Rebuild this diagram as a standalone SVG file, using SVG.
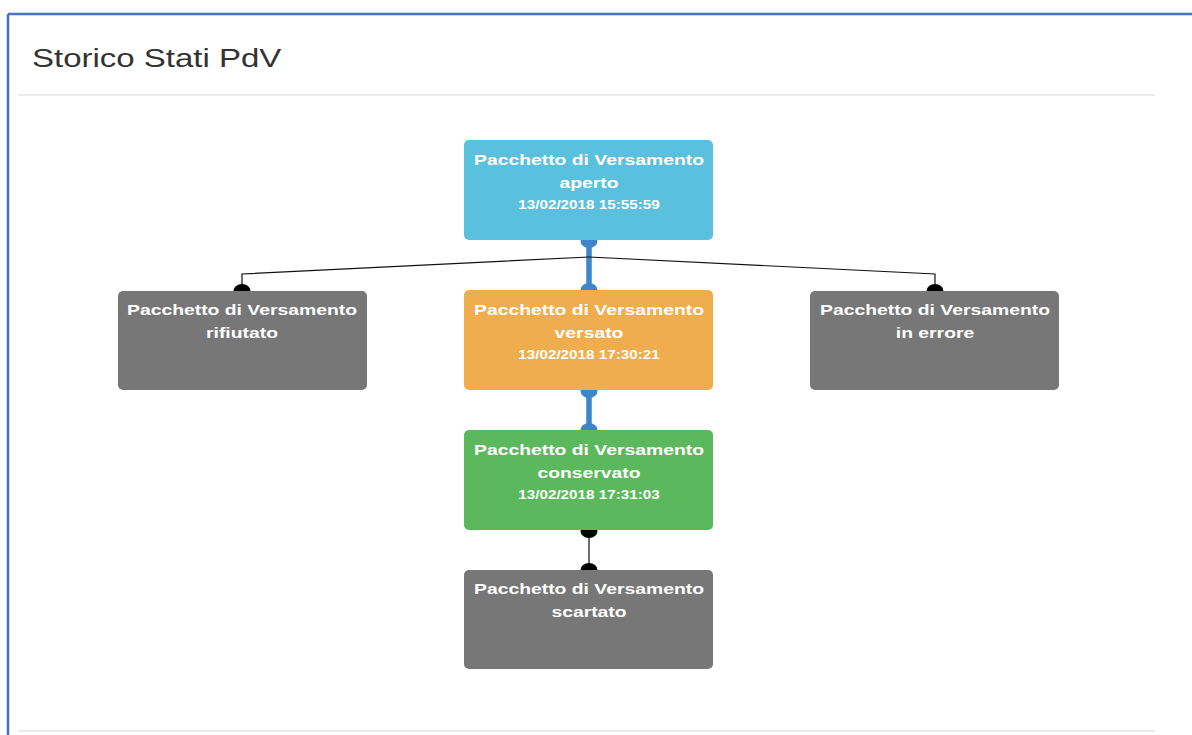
<svg xmlns="http://www.w3.org/2000/svg" width="1192" height="735" viewBox="0 0 1192 735">
  <style>
    .node rect { stroke: none; }
    .name { font-family: "Liberation Sans", Arial, sans-serif; font-weight: bold; font-size: 15px; fill: #ffffff; text-anchor: middle; }
    .date { font-family: "Liberation Sans", Arial, sans-serif; font-weight: bold; font-size: 12.5px; fill: #ffffff; text-anchor: middle; }
    .title { font-family: "Liberation Sans", Arial, sans-serif; font-size: 25px; fill: #333333; }
    .sep { stroke: #e5e5e5; stroke-width: 1.5; }
    .main { stroke: #3d86c9; stroke-width: 5.5; fill: none; }
    .mainDot { fill: #3d86c9; }
    .thin { stroke: #111111; stroke-width: 1.2; fill: none; }
    .gray { stroke: #6e6e6e; stroke-width: 2; fill: none; }
    .blackDot { fill: #000000; }
  </style>

  <rect x="0" y="0" width="1192" height="735" fill="#ffffff"/>

  <!-- panel frame -->
  <g id="frame">
    <line x1="8" y1="14" x2="1192" y2="14" stroke="#4472c4" stroke-width="2.5"/>
    <line x1="8" y1="14" x2="8" y2="735" stroke="#4472c4" stroke-width="2.5"/>
    <line class="sep" x1="18" y1="95" x2="1155" y2="95"/>
    <line class="sep" x1="18" y1="731" x2="1155" y2="731"/>
    <text class="title" transform="translate(32,67) scale(1.32,1)">Storico Stati PdV</text>
  </g>

  <!-- connectors -->
  <g id="connectors">
    <line class="main" x1="589" y1="240" x2="589" y2="290"/>
    <ellipse class="mainDot" cx="589" cy="241" rx="8.5" ry="7"/>
    <ellipse class="mainDot" cx="589" cy="290" rx="8.5" ry="7"/>

    <line class="main" x1="589" y1="390" x2="589" y2="430"/>
    <ellipse class="mainDot" cx="589" cy="391" rx="8.5" ry="7"/>
    <ellipse class="mainDot" cx="589" cy="430" rx="8.5" ry="7"/>

    <polyline class="thin" points="589,257 242,274 242,291"/>
    <ellipse class="blackDot" cx="242" cy="291" rx="8.5" ry="7"/>
    <polyline class="thin" points="589,257 935,274 935,291"/>
    <ellipse class="blackDot" cx="935" cy="291" rx="8.5" ry="7"/>

    <line class="gray" x1="589" y1="530" x2="589" y2="570"/>
    <ellipse class="blackDot" cx="589" cy="531" rx="8.5" ry="7"/>
    <ellipse class="blackDot" cx="589" cy="570" rx="8.5" ry="7"/>
  </g>

  <g id="node-aperto" class="node">
    <rect x="464" y="140" width="249" height="100" rx="5" fill="#5bc0de"/>
    <text class="name" transform="translate(589,165) scale(1.29,1)">Pacchetto di Versamento</text>
    <text class="name" transform="translate(589,188) scale(1.29,1)">aperto</text>
    <text class="date" transform="translate(589,209) scale(1.22,1)">13/02/2018 15:55:59</text>
  </g>

  <g id="node-rifiutato" class="node">
    <rect x="118" y="291" width="249" height="99" rx="5" fill="#777777"/>
    <text class="name" transform="translate(242,315) scale(1.29,1)">Pacchetto di Versamento</text>
    <text class="name" transform="translate(242,338) scale(1.29,1)">rifiutato</text>
  </g>

  <g id="node-versato" class="node">
    <rect x="464" y="290" width="249" height="100" rx="5" fill="#f0ad4e"/>
    <text class="name" transform="translate(589,315) scale(1.29,1)">Pacchetto di Versamento</text>
    <text class="name" transform="translate(589,338) scale(1.29,1)">versato</text>
    <text class="date" transform="translate(589,359) scale(1.22,1)">13/02/2018 17:30:21</text>
  </g>

  <g id="node-errore" class="node">
    <rect x="810" y="291" width="249" height="99" rx="5" fill="#777777"/>
    <text class="name" transform="translate(935,315) scale(1.29,1)">Pacchetto di Versamento</text>
    <text class="name" transform="translate(935,338) scale(1.29,1)">in errore</text>
  </g>

  <g id="node-conservato" class="node">
    <rect x="464" y="430" width="249" height="100" rx="5" fill="#5cb85c"/>
    <text class="name" transform="translate(589,455) scale(1.29,1)">Pacchetto di Versamento</text>
    <text class="name" transform="translate(589,478) scale(1.29,1)">conservato</text>
    <text class="date" transform="translate(589,499) scale(1.22,1)">13/02/2018 17:31:03</text>
  </g>

  <g id="node-scartato" class="node">
    <rect x="464" y="570" width="249" height="99" rx="5" fill="#777777"/>
    <text class="name" transform="translate(589,594) scale(1.29,1)">Pacchetto di Versamento</text>
    <text class="name" transform="translate(589,617) scale(1.29,1)">scartato</text>
  </g>
</svg>
